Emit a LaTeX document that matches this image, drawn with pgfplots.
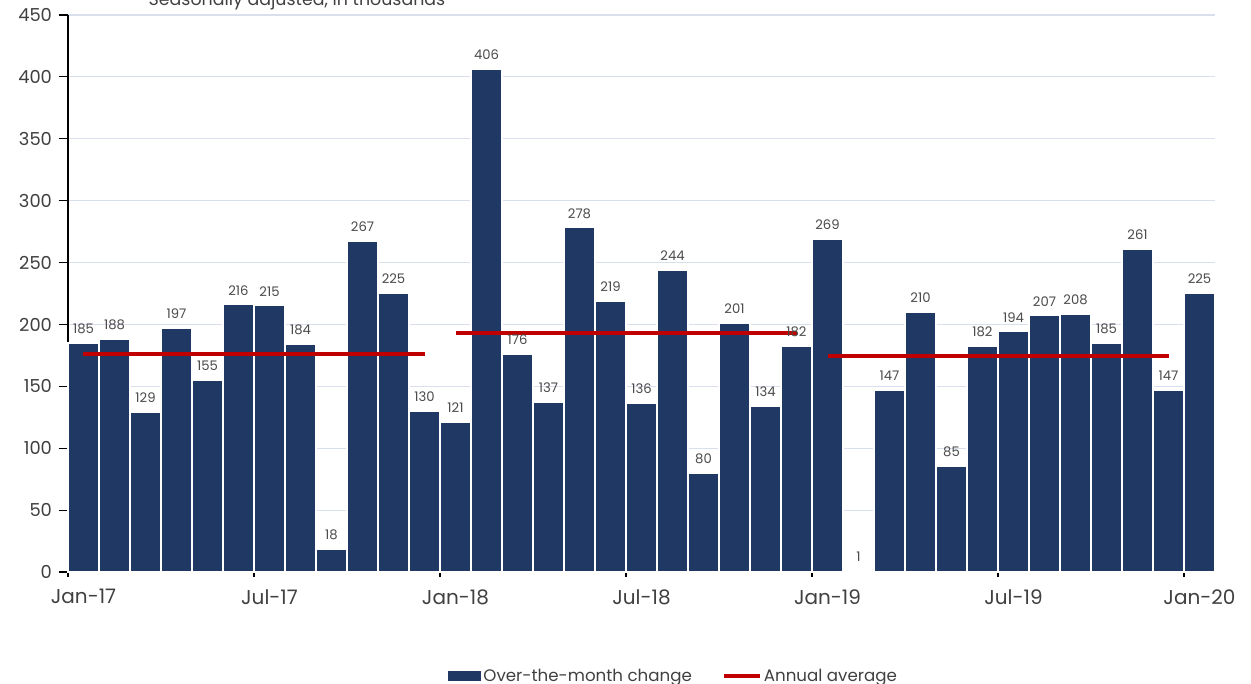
\documentclass[border=0pt]{standalone}
\usepackage{pgfplots}
\pgfplotsset{compat=1.18}
\usepackage{fontspec}
\setmainfont{Poppins}
\definecolor{barblue}{HTML}{203864}
\definecolor{avgred}{HTML}{C00000}
\definecolor{gridc}{HTML}{D9DFEC}
\definecolor{txt}{HTML}{404040}
\definecolor{lbl}{HTML}{4A4A4A}
\pgfplotstableread{
x y
0.5 185
1.5 188
2.5 129
3.5 197
4.5 155
5.5 216
6.5 215
7.5 184
8.5 18
9.5 267
10.5 225
11.5 130
12.5 121
13.5 406
14.5 176
15.5 137
16.5 278
17.5 219
18.5 136
19.5 244
20.5 80
21.5 201
22.5 134
23.5 182
24.5 269
25.5 1
26.5 147
27.5 210
28.5 85
29.5 182
30.5 194
31.5 207
32.5 208
33.5 185
34.5 261
35.5 147
36.5 225
}\monthly
\begin{document}
\begin{tikzpicture}
\begin{axis}[
  at={(0pt,0pt)}, anchor=south west,
  scale only axis,
  width=860.25pt, height=417.75pt,
  xmin=0, xmax=37, ymin=0, ymax=450,
  ytick={0,50,...,450},
  xtick={0,6,12,18,24,30,36},
  xticklabels={Jan-17,Jul-17,Jan-18,Jul-18,Jan-19,Jul-19,Jan-20},
  axis lines*=left,
  axis line style={black, line width=0.8pt},
  tick align=center,
  major tick length=7pt,
  tick style={black, line width=0.8pt},
  ytick style={xshift=-3.5pt},
  ymajorgrids,
  grid style={gridc, line width=0.8pt},
  /pgf/number format/assume math mode=true,
  yticklabel style={font=\fontsize{13.4}{14}\selectfont, text=txt, xshift=-5pt},
  xticklabel style={font=\fontsize{15}{16}\selectfont, text=txt, xshift=11.6pt, yshift=-6pt},
  legend style={at={(0.528,-0.187)}, anchor=center, draw=none, fill=none,
    font=\fontsize{12.5}{13}\selectfont, text=txt,
    legend columns=2,
    /tikz/every even column/.append style={column sep=21pt},
    nodes={inner sep=1.5pt}},
  clip=false,
]
\addplot[ybar, bar width=1, bar shift=0, fill=barblue, draw=white, line width=0.9pt,
  legend image code/.code={\fill[barblue] (0pt,-3.5pt) rectangle (24pt,3.5pt);}]
  table[x=x,y=y]{\monthly};
\addlegendentry{Over-the-month change}
\addplot[avgred, line width=3pt, legend image code/.code={\draw[avgred, line width=3pt] (0pt,0pt) -- (27pt,0pt);}]
  coordinates {(0.5,175.75) (11.5,175.75)};
\addlegendentry{Annual average}
\addplot[avgred, line width=3pt, forget plot] coordinates {(12.5,192.83) (23.5,192.83)};
\addplot[avgred, line width=3pt, forget plot] coordinates {(24.5,174.67) (35.5,174.67)};
\addplot[only marks, mark=none, forget plot,
  nodes near coords, point meta=explicit symbolic,
  every node near coord/.append style={font=\fontsize{9.9}{10}\selectfont, text=lbl, anchor=south, inner sep=0pt, yshift=7pt}]
  table[x=x,y=y,meta=y]{\monthly};
\end{axis}
\node[anchor=base, font=\fontsize{13.05}{14}\selectfont, text=txt] at (171.75pt,424.7pt) {Seasonally adjusted, in thousands};
\pgfresetboundingbox
\path[use as bounding box] (-51pt,-84pt) rectangle (887.25pt,429pt);
\end{tikzpicture}
\end{document}
